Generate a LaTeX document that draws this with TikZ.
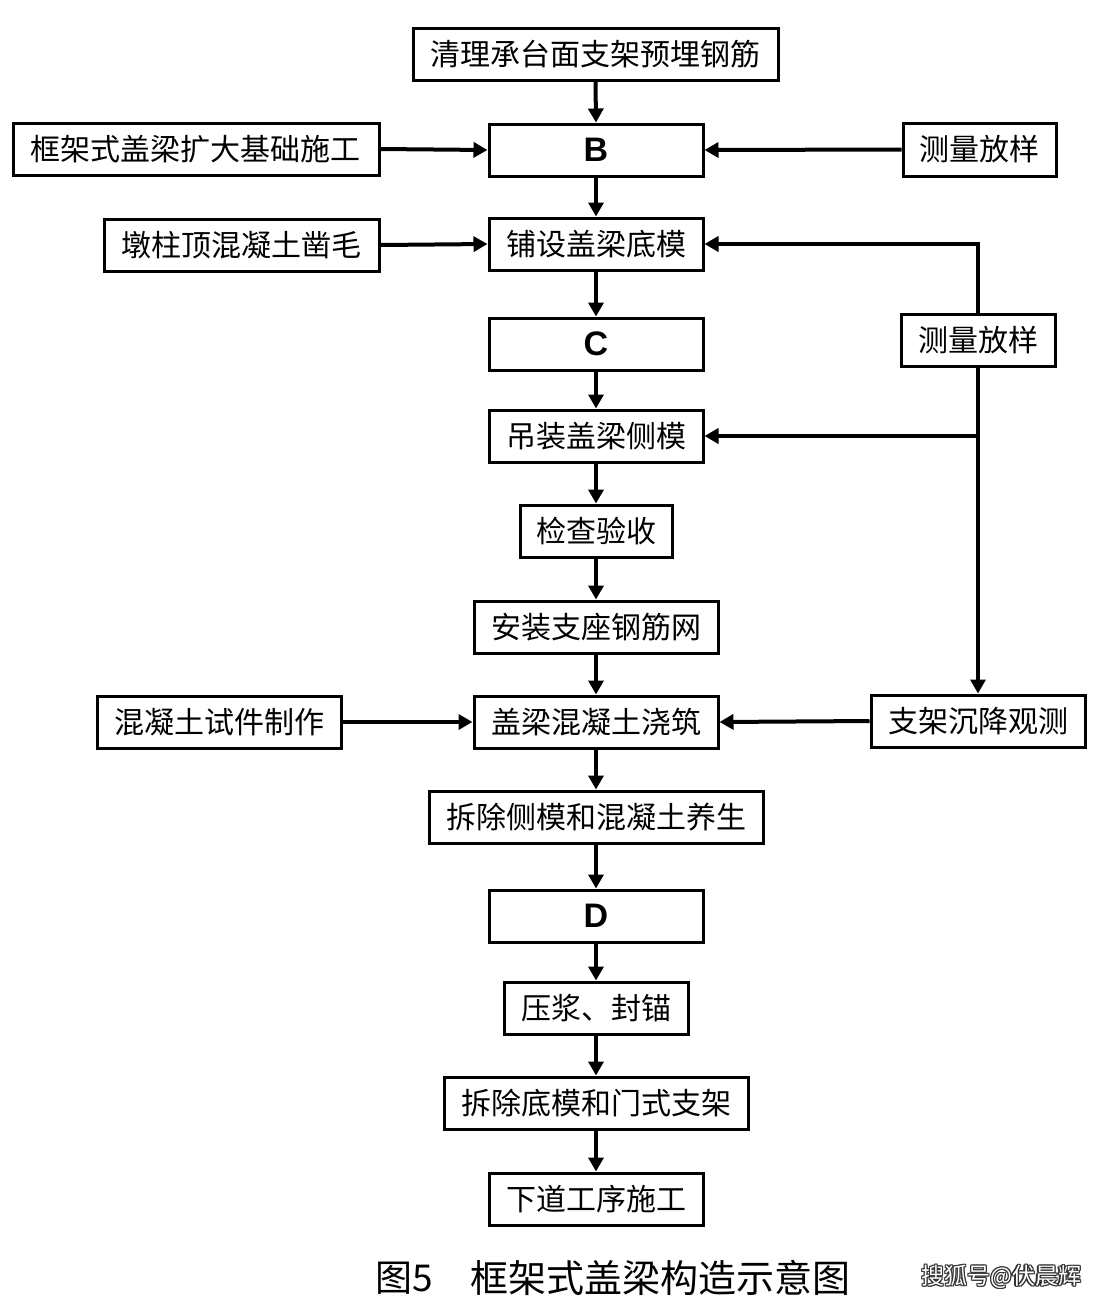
\documentclass[tikz,border=0pt]{standalone}
\usepackage{fontspec}
\setmainfont{Liberation Sans}
\newfontfamily\cjk{Noto Sans CJK SC}
\usetikzlibrary{arrows.meta}
\tikzset{
  box/.style={draw=black, line width=1.5pt, fill=white, inner sep=0pt, font=\cjk\fontsize{15}{18}\selectfont},
  letterbox/.style={box, font=\bfseries\fontsize{17}{20}\selectfont},
  flow/.style={line width=2pt, -{Triangle[length=7pt,width=7.5pt]}},
  plain/.style={line width=2pt},
}
\newcommand\mkbox[7][box]{\node[#1, minimum width=#5*0.5pt, minimum height=#6*0.5pt] (#2) at (#3,#4) {#7};}
\begin{document}
\begin{tikzpicture}[x=0.5pt,y=-0.5pt]
\fill[white] (0,0) rectangle (1104,1302);
\useasboundingbox (0,0) rectangle (1104,1302);
\mkbox{n1}{595.5}{54}{365}{52}{清理承台面支架预埋钢筋}
\mkbox[letterbox]{nB}{596}{150}{214}{52}{B}
\mkbox{l1}{196}{149}{366}{52}{框架式盖梁扩大基础施工}
\mkbox{r1}{979.5}{149.5}{153}{53}{测量放样}
\mkbox{n3}{596}{244}{214}{52}{铺设盖梁底模}
\mkbox{l2}{241.5}{245}{275}{52}{墩柱顶混凝土凿毛}
\mkbox[letterbox]{nC}{596}{344}{214}{52}{C}
\mkbox{r2}{978}{340}{154}{52}{测量放样}
\mkbox{n5}{596}{436}{214}{52}{吊装盖梁侧模}
\mkbox{n6}{596}{531}{152}{52}{检查验收}
\mkbox{n7}{596}{627}{244}{52}{安装支座钢筋网}
\mkbox{n8}{596}{722}{244}{52}{盖梁混凝土浇筑}
\mkbox{l3}{219}{722}{244}{52}{混凝土试件制作}
\mkbox{r3}{978}{721}{214}{52}{支架沉降观测}
\mkbox{n9}{596}{817}{334}{52}{拆除侧模和混凝土养生}
\mkbox[letterbox]{nD}{596}{916}{214}{52}{D}
\mkbox{n11}{596}{1008}{184}{52}{压浆、封锚}
\mkbox{n12}{596}{1103}{304}{52}{拆除底模和门式支架}
\mkbox{n13}{596}{1199}{214}{52}{下道工序施工}
% main column
\draw[flow] (n1.south) -- (nB.north);
\foreach \a/\b in {nB/n3,n3/nC,nC/n5,n5/n6,n6/n7,n7/n8,n8/n9,n9/nD,nD/n11,n11/n12,n12/n13}
  \draw[flow] (\a.south) -- (\b.north);
% side inputs
\draw[flow] (l1.east) -- (nB.west);
\draw[flow] (r1.west) -- (nB.east);
\draw[flow] (l2.east) -- (n3.west);
\draw[flow] (l3.east) -- (n8.west);
\draw[flow] (r3.west) -- (n8.east);
% right branch
\draw[flow] (r2.north) -- (r2.north |- n3.east) -- (n3.east);
\draw[flow] (r2.south) -- (r3.north);
\coordinate (j) at (r2.south |- n5.east);
\draw[flow] (j) -- (n5.east);
% caption
\node[anchor=west, inner sep=0pt, font=\cjk\fontsize{18.5}{22}\selectfont] (cap1) at (375,1278) {图5};
\node[anchor=west, inner sep=0pt, font=\cjk\fontsize{19}{22}\selectfont] (cap2) at (470,1278) {框架式盖梁构造示意图};
\foreach \dx/\dy in {-1.2/0,1.2/0,0/-1.2,0/1.2,-0.9/-0.9,0.9/0.9,-0.9/0.9,0.9/-0.9}
  \node[anchor=west, inner sep=0pt, text=black!80, font=\cjk\fontsize{11.5}{14}\selectfont] at (921+\dx,1277+\dy) {搜狐号@伏晨辉};
\node[anchor=west, inner sep=0pt, text=white, font=\cjk\fontsize{11.5}{14}\selectfont] (wm) at (921,1277) {搜狐号@伏晨辉};
\end{tikzpicture}
\end{document}
